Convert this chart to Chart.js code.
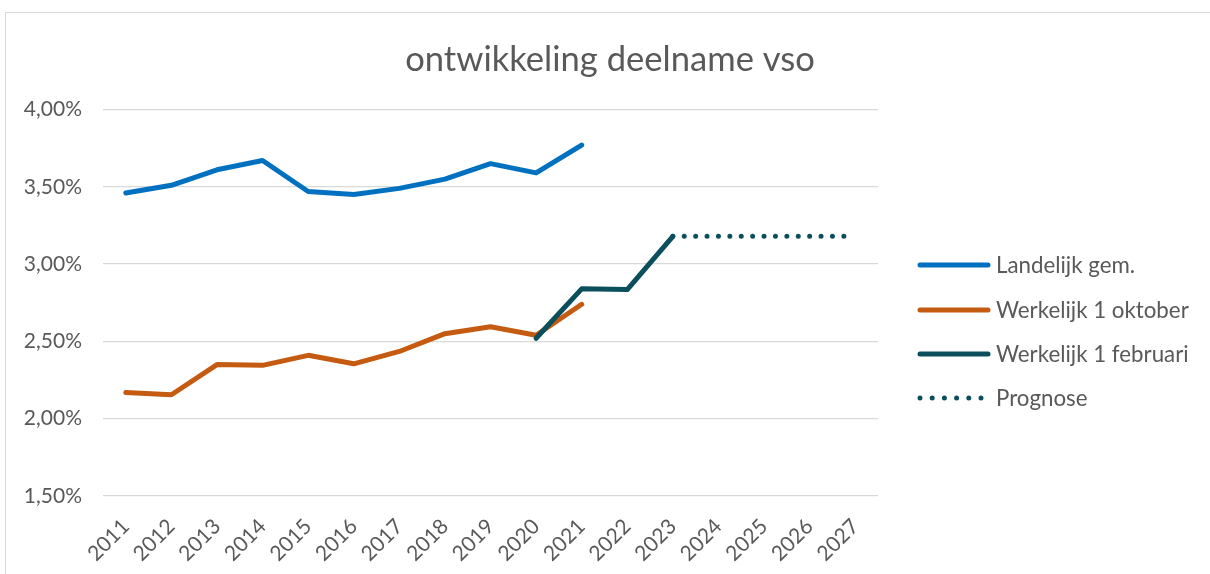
<!DOCTYPE html>
<html>
<head>
<meta charset="utf-8">
<script src="https://cdn.jsdelivr.net/npm/chart.js@4/dist/chart.umd.min.js"></script>
<style>
  html, body { margin: 0; padding: 0; background: #ffffff; overflow: hidden; }
  #frame { position: absolute; left: 5px; top: 12px; width: 1400px; height: 800px; border: 1px solid #d9d9d9; }
  #c { position: absolute; left: 0; top: 0; }
</style>
</head>
<body>
<div id="frame"></div>
<canvas id="c" width="1210" height="574"></canvas>
<script>
const titleText = 'ontwikkeling deelname vso';
const years = ['2011','2012','2013','2014','2015','2016','2017','2018','2019','2020','2021','2022','2023','2024','2025','2026','2027'];
const seriesNames = ['Landelijk gem.', 'Werkelijk 1 oktober', 'Werkelijk 1 februari', 'Prognose'];
const landelijk = [3.46, 3.51, 3.61, 3.67, 3.47, 3.45, 3.49, 3.55, 3.65, 3.59, 3.77, null, null, null, null, null, null];
const oktober   = [2.17, 2.155, 2.35, 2.345, 2.41, 2.355, 2.435, 2.55, 2.595, 2.54, 2.74, null, null, null, null, null, null];
const februari  = [null, null, null, null, null, null, null, null, null, 2.52, 2.84, 2.835, 3.18, null, null, null, null];
const prognose  = [null, null, null, null, null, null, null, null, null, null, null, null, 3.18, 3.18, 3.18, 3.18, 3.18];
const yTicks = [1.5, 2.0, 2.5, 3.0, 3.5, 4.0];

const FONT = 'Lato';
const TEXT = '#595959';

const legendPlugin = {
  id: 'sideLegend',
  afterDraw(chart) {
    const ctx = chart.ctx;
    const rows = [265, 310, 354, 398];
    chart.data.datasets.forEach((ds, i) => {
      const y = rows[i];
      ctx.save();
      ctx.strokeStyle = ds.borderColor;
      ctx.lineWidth = ds.borderWidth;
      ctx.lineCap = 'round';
      if (ds.borderDash && ds.borderDash.length) {
        ctx.setLineDash([0, 12.2]);
        ctx.beginPath(); ctx.moveTo(920, y); ctx.lineTo(984, y); ctx.stroke();
      } else {
        ctx.beginPath(); ctx.moveTo(920, y); ctx.lineTo(988, y); ctx.stroke();
      }
      ctx.restore();
      ctx.save();
      ctx.fillStyle = TEXT;
      ctx.font = '22.3px ' + FONT;
      ctx.textBaseline = 'middle';
      ctx.textAlign = 'left';
      ctx.fillText(ds.label, 996, y + 1);
      ctx.restore();
    });
  }
};

new Chart(document.getElementById('c'), {
  type: 'line',
  data: {
    labels: years,
    datasets: [
      { label: seriesNames[0], data: landelijk, borderColor: '#0070C0', backgroundColor: '#0070C0', borderWidth: 5, pointRadius: 0, borderCapStyle: 'round', borderJoinStyle: 'round', order: 3 },
      { label: seriesNames[1], data: oktober, borderColor: '#C55A11', backgroundColor: '#C55A11', borderWidth: 5, pointRadius: 0, borderCapStyle: 'round', borderJoinStyle: 'round', order: 2 },
      { label: seriesNames[2], data: februari, borderColor: '#0B4F5C', backgroundColor: '#0B4F5C', borderWidth: 5, pointRadius: 0, borderCapStyle: 'round', borderJoinStyle: 'round', order: 0 },
      { label: seriesNames[3], data: prognose, borderColor: '#0B4F5C', backgroundColor: '#0B4F5C', borderWidth: 5, pointRadius: 0, borderCapStyle: 'round', borderDash: [0, 11.4], order: 1 }
    ]
  },
  options: {
    responsive: false,
    animation: false,
    layout: { padding: { left: 10, right: 0, top: 0, bottom: 0 } },
    plugins: {
      legend: { display: false },
      tooltip: { enabled: false },
      title: {
        display: true,
        text: titleText,
        color: TEXT,
        font: { family: FONT, size: 34.6, weight: 'normal', lineHeight: 1.2 },
        padding: { top: 39, bottom: 29 }
      }
    },
    scales: {
      x: {
        offset: true,
        grid: { display: false },
        border: { display: false },
        ticks: { color: TEXT, font: { family: FONT, size: 21 }, minRotation: 45, maxRotation: 45, autoSkip: false, padding: 10 },
        afterFit(s) { s.height = 78; }
      },
      y: {
        min: 1.5, max: 4.0,
        afterBuildTicks(s) { s.ticks = yTicks.map(v => ({ value: v })); },
        grid: { color: '#d9d9d9', lineWidth: 1.3, drawTicks: false },
        border: { display: false },
        ticks: { color: TEXT, font: { family: FONT, size: 21 }, padding: 21,
          callback: v => v.toFixed(2).replace('.', ',') + '%' },
        afterFit(s) { s.width = 93; }
      },
      pad: {
        type: 'linear', position: 'right', display: true,
        grid: { display: false }, border: { display: false }, ticks: { display: false },
        afterFit(s) { s.width = 332; }
      }
    }
  },
  plugins: [legendPlugin]
});
</script>
</body>
</html>
